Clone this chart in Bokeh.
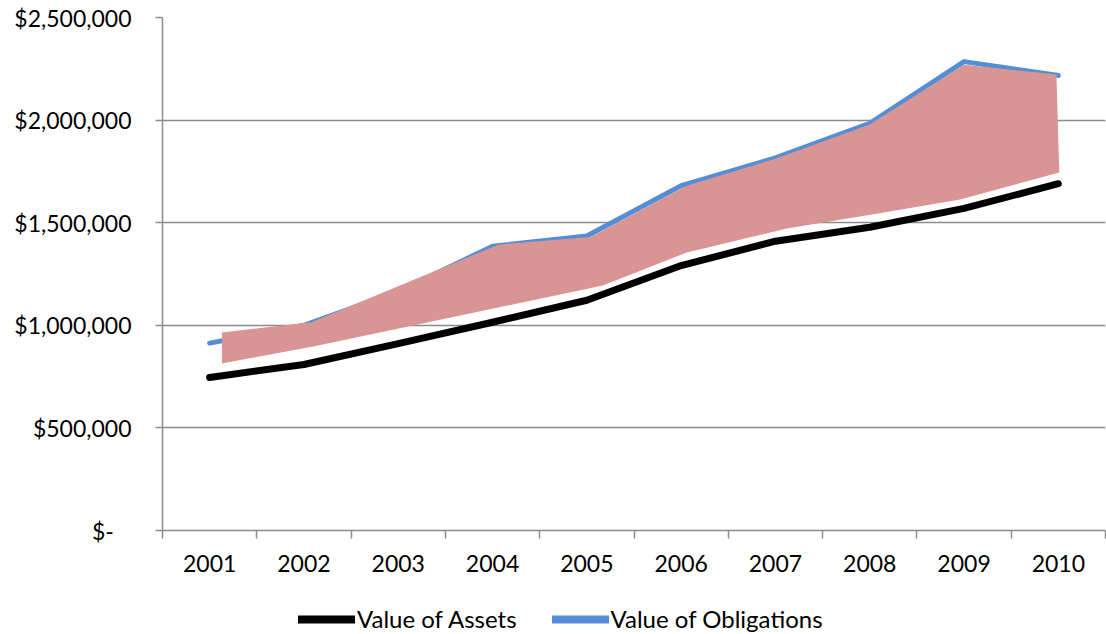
from bokeh.plotting import figure
from bokeh.layouts import column
from bokeh.models import Range1d, FixedTicker, NumeralTickFormatter, Legend, LegendItem
from bokeh.embed import file_html
from bokeh.resources import INLINE

years = [2001, 2002, 2003, 2004, 2005, 2006, 2007, 2008, 2009, 2010]
assets = [746000, 809000, 911000, 1015000, 1122000, 1291000, 1410000, 1478000, 1570000, 1690000]
obligations = [913000, 1000000, 1165000, 1385000, 1435000, 1680000, 1816000, 1984000, 2285000, 2217000]

# shaded band (a freeform shape in the original)
band_top_x = [2001.13, 2002.08, 2004.06, 2005.04, 2006.06, 2007.0, 2008.0, 2009.0, 2009.98]
band_top_y = [965000, 1015000, 1393000, 1430000, 1680000, 1812000, 1978000, 2270000, 2222000]
band_bottom_x = [2001.13, 2002.10, 2005.17, 2006.06, 2007.12, 2007.96, 2008.96, 2010.01]
band_bottom_y = [814000, 897000, 1194000, 1355000, 1472000, 1535000, 1613000, 1745000]

y_ticks = [0, 500000, 1000000, 1500000, 2000000, 2500000]
series_names = ["Value of Assets", "Value of Obligations"]

FONT = "Lato"
GRAY = "#8C8C8C"
ASSET_COLOR = "black"
OBL_COLOR = "#558ED5"

p = figure(width=1106, height=580, output_backend="svg", toolbar_location=None,
           x_range=Range1d(2000.5, 2010.5), y_range=Range1d(0, 2500000),
           min_border_left=162, min_border_right=1, min_border_top=17, min_border_bottom=50)
p.outline_line_color = None
p.background_fill_color = "white"
p.border_fill_color = "white"

p.line(years, assets, line_color=ASSET_COLOR, line_width=7, line_cap="round", line_join="round")
p.line(years, obligations, line_color=OBL_COLOR, line_width=5, line_cap="round", line_join="round")

px = band_top_x + band_bottom_x[::-1]
py = band_top_y + band_bottom_y[::-1]
p.patch(px, py, fill_color="#D99594", line_color=None)

# x axis
p.xaxis.ticker = FixedTicker(ticks=years, minor_ticks=[y - 0.5 for y in years] + [years[-1] + 0.5])
p.xaxis.major_tick_out = 0
p.xaxis.major_tick_in = 0
p.xaxis.minor_tick_out = 8
p.xaxis.minor_tick_in = 0
p.xaxis.minor_tick_line_color = GRAY
p.xaxis.minor_tick_line_width = 1.5
p.xaxis.axis_line_color = GRAY
p.xaxis.axis_line_width = 1.5
p.xaxis.major_label_standoff = 16
p.xaxis.major_label_text_font = FONT
p.xaxis.major_label_text_font_size = "23px"
p.xaxis.major_label_text_color = "black"

# y axis
p.yaxis.ticker = FixedTicker(ticks=y_ticks, minor_ticks=[])
p.yaxis.formatter = NumeralTickFormatter(format="$0,0")
p.yaxis.major_label_overrides = {0: "$-\u00a0\u00a0\u00a0"}
p.yaxis.major_tick_out = 7
p.yaxis.major_tick_in = 0
p.yaxis.major_tick_line_color = GRAY
p.yaxis.major_tick_line_width = 1.5
p.yaxis.axis_line_color = GRAY
p.yaxis.axis_line_width = 1.5
p.yaxis.major_label_standoff = 24
p.yaxis.major_label_text_font = FONT
p.yaxis.major_label_text_font_size = "23px"
p.yaxis.major_label_text_color = "black"

p.xgrid.visible = False
p.ygrid.ticker = FixedTicker(ticks=y_ticks[1:], minor_ticks=[])
p.ygrid.grid_line_color = GRAY
p.ygrid.grid_line_width = 1.5

# legend strip below the chart (its series lie outside its own view; only the legend shows)
lg = figure(width=1106, height=54, output_backend="svg", toolbar_location=None,
            x_axis_type=None, y_axis_type=None, x_range=Range1d(0, 1), y_range=Range1d(0, 1),
            min_border=0)
lg.outline_line_color = None
lg.xgrid.visible = False
lg.ygrid.visible = False
la = lg.line(years, assets, line_color=ASSET_COLOR, line_width=8, line_cap="round")
lo = lg.line(years, obligations, line_color=OBL_COLOR, line_width=8, line_cap="round")
legend = Legend(items=[LegendItem(label=series_names[0], renderers=[la]),
                       LegendItem(label=series_names[1], renderers=[lo])],
                orientation="horizontal", location=(136, 1),
                label_text_font=FONT, label_text_font_size="24px", label_text_color="black",
                glyph_width=57, glyph_height=28, label_height=28, label_standoff=2,
                spacing=35, padding=0, margin=0, border_line_color=None,
                background_fill_alpha=0)
lg.add_layout(legend, "center")

open("out.html", "w").write(file_html(column(p, lg, spacing=0), INLINE))
